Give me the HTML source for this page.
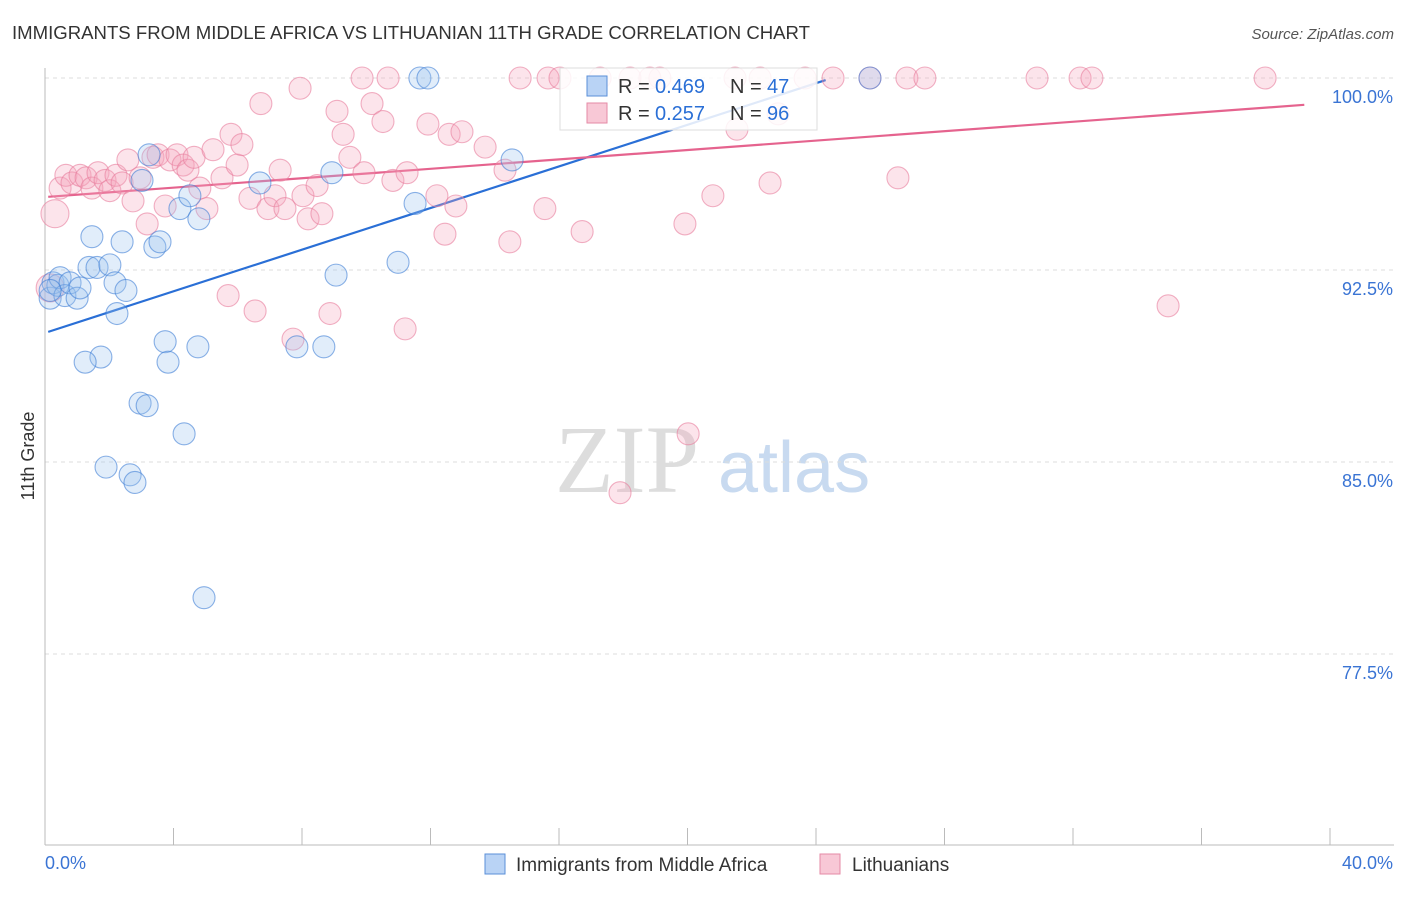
<!DOCTYPE html>
<html><head><meta charset="utf-8"><style>
body{margin:0;background:#fff;font-family:"Liberation Sans",sans-serif;}
</style></head><body>
<svg id="chart" width="1406" height="892" xmlns="http://www.w3.org/2000/svg" style="font-family:'Liberation Sans',sans-serif">
<text x="12" y="39" font-size="18" fill="#333" textLength="798" lengthAdjust="spacingAndGlyphs">IMMIGRANTS FROM MIDDLE AFRICA VS LITHUANIAN 11TH GRADE CORRELATION CHART</text>
<text x="1394" y="39" font-size="15" fill="#555" text-anchor="end" font-style="italic">Source: ZipAtlas.com</text>
<g>
<text x="555" y="492" font-size="96" fill="#ddd" font-family="Liberation Serif,serif">ZIP</text>
<text x="718" y="492" font-size="72" fill="#c8daf0">atlas</text>
</g>
<g id="grid"></g><g id="axes"></g><g id="lines"></g><g id="pts"></g>
<g>
<rect x="560" y="68" width="257" height="62" fill="#fff" fill-opacity="0.85" stroke="#ddd"/>
<rect x="587" y="76" width="20" height="20" fill="#b9d3f5" stroke="#5a8fd8"/>
<text x="618" y="93" font-size="20" fill="#333">R =</text>
<text x="655" y="93" font-size="20" fill="#2a6fd6">0.469</text>
<text x="730" y="93" font-size="20" fill="#333">N =</text>
<text x="767" y="93" font-size="20" fill="#2a6fd6">47</text>
<rect x="587" y="103" width="20" height="20" fill="#f8c8d6" stroke="#e58aa6"/>
<text x="618" y="120" font-size="20" fill="#333">R =</text>
<text x="655" y="120" font-size="20" fill="#2a6fd6">0.257</text>
<text x="730" y="120" font-size="20" fill="#333">N =</text>
<text x="767" y="120" font-size="20" fill="#2a6fd6">96</text>
</g>
<g>
<rect x="485" y="854" width="20" height="20" fill="#b9d3f5" stroke="#5a8fd8"/>
<text x="516" y="871" font-size="19" fill="#333">Immigrants from Middle Africa</text>
<rect x="820" y="854" width="20" height="20" fill="#f8c8d6" stroke="#e58aa6"/>
<text x="852" y="871" font-size="19" fill="#333">Lithuanians</text>
</g>
<text transform="translate(34,456) rotate(-90)" font-size="18" fill="#333" text-anchor="middle">11th Grade</text>
</svg>
<script>
const blueX=[0.16,0.25,0.40,0.47,0.62,0.78,1.0,1.09,1.37,1.46,1.62,1.74,1.25,1.9,2.02,2.18,2.24,2.4,2.52,2.65,2.8,2.96,3.02,3.18,3.24,3.42,3.58,3.74,3.83,4.2,4.33,4.51,4.76,4.79,4.95,6.69,7.84,8.68,8.93,9.06,10.99,11.52,11.67,11.92,14.54,25.68,0.16];
const blueY=[91.4,92.0,91.9,92.2,91.5,92.0,91.4,91.8,92.6,93.8,92.6,89.1,88.9,84.8,92.7,92.0,90.8,93.6,91.7,84.5,84.2,87.3,96.0,87.2,97.0,93.4,93.6,89.7,88.9,94.9,86.1,95.4,89.5,94.5,79.7,95.9,89.5,89.5,96.3,92.3,92.8,95.1,100,100,96.8,100,91.7];
const pinkX=[0.16,0.31,0.47,0.65,0.84,1.09,1.28,1.46,1.65,1.87,2.02,2.21,2.4,2.58,2.74,2.96,3.18,3.36,3.52,3.74,3.89,4.11,4.3,4.45,4.64,4.82,5.04,5.23,5.51,5.7,5.79,5.98,6.13,6.38,6.54,6.72,6.94,7.16,7.32,7.47,7.72,7.94,8.03,8.19,8.47,8.62,8.87,9.09,9.28,9.49,9.87,9.93,10.18,10.52,10.68,10.83,11.21,11.27,11.92,12.2,12.45,12.58,12.79,12.98,13.7,14.47,14.32,14.79,15.56,15.66,16.03,16.72,17.28,17.9,18.21,19.14,19.92,20.02,20.79,21.48,21.54,22.26,22.57,22.82,23.66,24.53,25.68,26.55,26.83,27.39,30.88,32.22,32.59,34.96,37.98,18.83];
const pinkY=[91.8,94.7,95.7,96.2,95.9,96.2,96.1,95.7,96.3,96.0,95.6,96.2,95.9,96.8,95.2,96.1,94.3,96.9,97.0,95.0,96.8,97.0,96.6,96.4,96.9,95.7,94.9,97.2,96.1,91.5,97.8,96.6,97.4,95.3,90.9,99.0,94.9,95.4,96.4,94.9,89.8,99.6,95.4,94.5,95.8,94.7,90.8,98.7,97.8,96.9,100,96.3,99.0,98.3,100,96.0,90.2,96.3,98.2,95.4,93.9,97.8,95.0,97.9,97.3,93.6,96.4,100,94.9,100,100,94.0,100,83.8,100,100,94.3,86.1,95.4,100,98.0,100,95.9,98.6,100,100,100,96.1,100,100,100,100,100,91.1,100,100];
const yTicks=[100,92.5,85,77.5];
const yTickLabels=["100.0%","92.5%","85.0%","77.5%"];
const xTicks=[0,4,8,12,16,20,24,28,32,36,40];

const NS="http://www.w3.org/2000/svg";
const X=v=>45+v*32.125, Y=v=>78+(100-v)*25.6;
function mk(tag,attrs,parent){const e=document.createElementNS(NS,tag);for(const k in attrs)e.setAttribute(k,attrs[k]);document.getElementById(parent).appendChild(e);return e;}
yTicks.forEach((t,i)=>{
 const g=mk('line',{x1:45,x2:1394,y1:Y(t),y2:Y(t),stroke:'#ddd','stroke-dasharray':'4,4'},'grid');
 
 
 const l=mk('text',{x:1393,y:Y(t)+25,'font-size':18,fill:'#3a74d4','text-anchor':'end'},'grid');
 l.textContent=yTickLabels[i];
 
 
});
const ax=mk('line',{x1:45,x2:45,y1:68,y2:845,stroke:'#bbb'},'axes');


const bx=mk('line',{x1:45,x2:1394,y1:845,y2:845,stroke:'#bbb'},'axes');


xTicks.forEach(t=>{const k=mk('line',{x1:X(t),x2:X(t),y1:828,y2:845,stroke:'#bbb'},'axes');
 
 });
const x0=mk('text',{x:45,y:869,'font-size':18,fill:'#3a74d4'},'axes');x0.textContent='0.0%';


const x1=mk('text',{x:1393,y:869,'font-size':18,fill:'#3a74d4','text-anchor':'end'},'axes');x1.textContent='40.0%';



function reg(xs,ys){const n=xs.length;let mx=0,my=0;for(let i=0;i<n;i++){mx+=xs[i];my+=ys[i];}mx/=n;my/=n;let sxy=0,sxx=0;for(let i=0;i<n;i++){sxy+=(xs[i]-mx)*(ys[i]-my);sxx+=(xs[i]-mx)**2;}const b=sxy/sxx;return [my-b*mx,b];}
function drawSeries(xs,ys,fill,stroke,name){
 xs.forEach((x,i)=>{const c=mk('circle',{cx:X(x),cy:Y(ys[i]),r:(i<2&&name=='pink')?14:11,fill:fill,'fill-opacity':0.3,stroke:stroke,'stroke-opacity':0.6,'stroke-width':1.1},'pts');
  
  });
}
drawSeries(pinkX,pinkY,'#f4a6bd','#e77d9d','pink');
drawSeries(blueX,blueY,'#9cc3ef','#3f7fd6','blue');
const [ab,bb]=reg(blueX,blueY);
let xe=Math.min(24.3,(100-ab)/bb);
const bl=mk('line',{x1:X(0.1),y1:Y(ab+bb*0.1),x2:X(xe),y2:Y(ab+bb*xe),stroke:'#2a6fd6','stroke-width':2.2},'lines');


const [ap,bp]=reg(pinkX,pinkY);
const pl=mk('line',{x1:X(0.1),y1:Y(ap+bp*0.1),x2:X(39.2),y2:Y(ap+bp*39.2),stroke:'#e5638e','stroke-width':2.2},'lines');


</script>
</body></html>
